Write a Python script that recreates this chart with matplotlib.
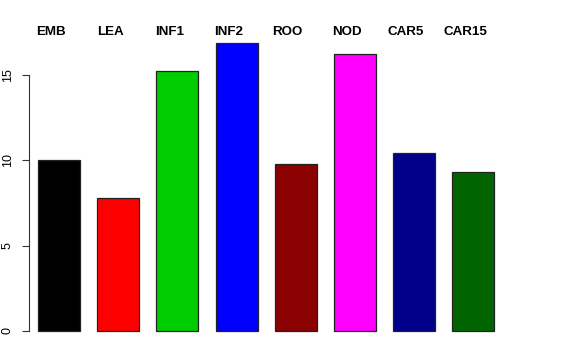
import numpy as np
import matplotlib
matplotlib.use("Agg")
import matplotlib.pyplot as plt

plt.rcParams['font.family'] = ['Liberation Sans', 'DejaVu Sans']

# tissue labels and values
tissues = ["EMB", "LEA", "INF1", "INF2", "ROO", "NOD", "CAR5", "CAR15"]
values = [10.0, 7.8, 15.23, 16.88, 9.8, 16.22, 10.43, 9.3]
colors = ["black", "red", "#00CD00", "blue", "#8B0000", "magenta", "#00008B", "#006400"]
yticks = [0, 5, 10, 15]

fig = plt.figure(figsize=(5.76, 3.6), dpi=100)
ax = fig.add_axes([29/576, 17.5/360, 518/576, 311.1/360])

x = np.arange(len(tissues))
ax.bar(x, values, width=0.71, color=colors, edgecolor="#222222", linewidth=0.9)

ax.set_xlim(-0.507, 8.243)
ax.set_ylim(-0.675, 17.55)

for s in ["top", "right", "bottom"]:
    ax.spines[s].set_visible(False)
ax.spines["left"].set_bounds(0, 15)
ax.spines["left"].set_linewidth(0.8)
ax.spines["left"].set_color("#333333")

ax.set_xticks([])
ax.set_yticks(yticks)
ax.set_yticklabels([str(t) for t in yticks], rotation=90, va="center", fontsize=9)
ax.tick_params(axis="y", length=5.0, width=0.8, color="#333333", pad=6.0)

for xi, name in zip(x, tissues):
    ax.annotate(name, xy=(xi, 17.34), xytext=(-5.8, 0), textcoords="offset points",
                ha="center", va="baseline", fontsize=9.6, fontweight="bold",
                annotation_clip=False)

fig.savefig("out.png", dpi=100)
